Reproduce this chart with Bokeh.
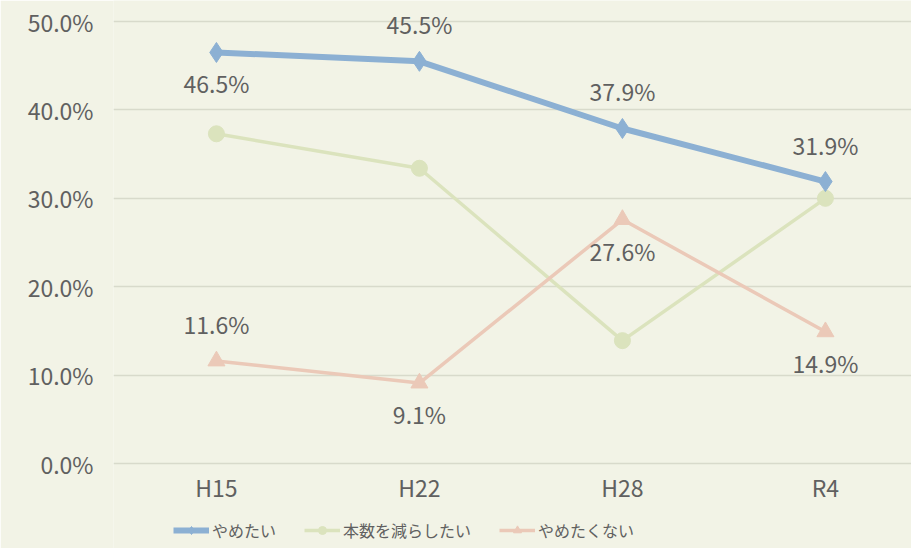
from bokeh.plotting import figure
from bokeh.models import ColumnDataSource, FixedTicker, Legend, LegendItem, Range1d
from bokeh.core.properties import value
from bokeh.embed import file_html
from bokeh.resources import INLINE

categories = ["H15", "H22", "H28", "R4"]
quit_vals = [46.5, 45.5, 37.9, 31.9]          # やめたい
reduce_vals = [37.3, 33.4, 13.9, 30.0]        # 本数を減らしたい
noquit_vals = [11.6, 9.1, 27.6, 14.9]         # やめたくない
quit_label_pos = ["below", "above", "above", "above"]
noquit_label_pos = ["above", "below", "below", "below"]
y_ticks = [0, 10, 20, 30, 40, 50]

BG = "#f2f3e6"
FONT = "Noto Sans CJK JP"
TXT = "#606060"

xs = list(range(len(categories)))

p = figure(frame_width=798, frame_height=548, output_backend="svg", toolbar_location=None,
           x_range=Range1d(-0.507, 3.424), y_range=Range1d(-9.615, 52.38),
           background_fill_color=BG, border_fill_color=BG,
           min_border_left=113, min_border_right=0, min_border_top=0, min_border_bottom=0)
p.outline_line_color = None
p.xgrid.grid_line_color = None
p.ygrid.grid_line_color = "#d8dacb"
p.ygrid.grid_line_width = 1.5

p.yaxis.ticker = FixedTicker(ticks=y_ticks)
p.yaxis.major_label_overrides = {t: f"{t:.1f}%" for t in y_ticks}
p.xaxis.ticker = FixedTicker(ticks=xs)
p.xaxis.major_label_overrides = {i: c for i, c in enumerate(categories)}
p.xaxis.fixed_location = 0
for ax in (p.xaxis, p.yaxis):
    ax.axis_line_color = None
    ax.major_tick_line_color = None
    ax.minor_tick_line_color = None
    ax.major_tick_out = 0
    ax.major_tick_in = 0
    ax.major_label_text_font = FONT
    ax.major_label_text_font_size = "23px"
    ax.major_label_text_color = TXT
p.yaxis.major_label_standoff = 20
p.xaxis.major_label_standoff = 6

src_g = ColumnDataSource(dict(x=xs, y=reduce_vals))
src_s = ColumnDataSource(dict(x=xs, y=noquit_vals))
src_b = ColumnDataSource(dict(x=xs, y=quit_vals))

gl = p.line("x", "y", source=src_g, line_color="#dbe3bd", line_width=3.5)
gm = p.scatter("x", "y", source=src_g, marker="circle", size=16, fill_color="#dbe3bd", line_color="#dbe3bd")
sl = p.line("x", "y", source=src_s, line_color="#ebc9b8", line_width=3.5)
sm = p.scatter("x", "y", source=src_s, marker="triangle", size=17, fill_color="#ebc9b8", line_color="#ebc9b8")
bl = p.line("x", "y", source=src_b, line_color="#8cb0d3", line_width=6)
bm = p.scatter("x", "y", source=src_b, marker="diamond", size=20, fill_color="#8cb0d3", line_color="#8cb0d3")

def labels(vals, pos):
    return dict(
        x=xs, y=vals, t=[f"{v:.1f}%" for v in vals],
        off=[-37 if q == "above" else 31 for q in pos],
    )

lb = ColumnDataSource(labels(quit_vals, quit_label_pos))
ls = ColumnDataSource(labels(noquit_vals, noquit_label_pos))
for s in (lb, ls):
    p.text("x", "y", text="t", source=s, y_offset="off", text_align="center",
           text_baseline="middle", text_font=value(FONT), text_font_size="23px",
           text_color=TXT)

legend = Legend(items=[
    LegendItem(label="やめたい", renderers=[bl, bm]),
    LegendItem(label="本数を減らしたい", renderers=[gl, gm]),
    LegendItem(label="やめたくない", renderers=[sl, sm]),
], orientation="horizontal", location=(60, 6))
legend.background_fill_alpha = 0
legend.border_line_color = None
legend.label_text_font = FONT
legend.label_text_font_size = "16px"
legend.label_text_color = TXT
legend.glyph_width = 36
legend.label_standoff = 3
legend.spacing = 28
legend.padding = 2
legend.margin = 0
p.add_layout(legend, "center")

open("out.html", "w").write(file_html(p, INLINE))
